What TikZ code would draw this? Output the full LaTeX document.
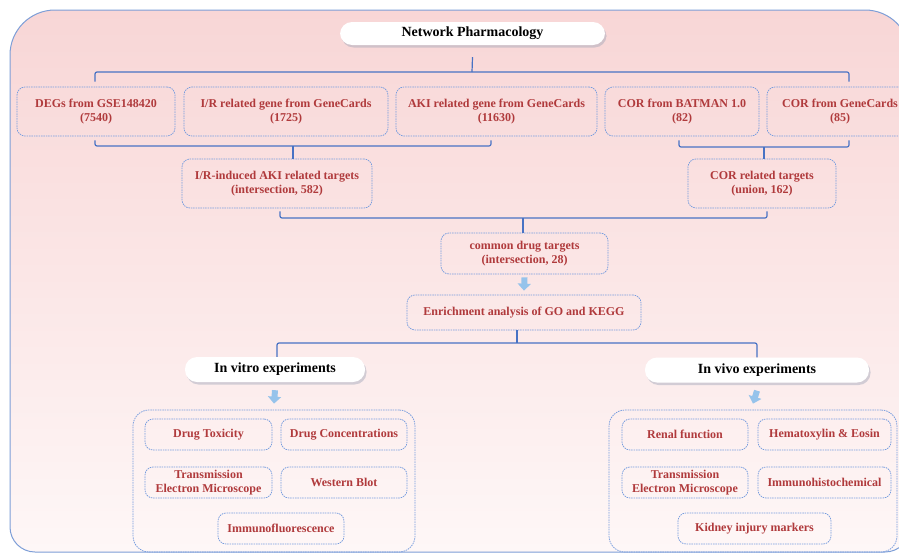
\documentclass[tikz,border=0pt]{standalone}
\usepackage{fontspec}
\setmainfont{Liberation Serif}
\usetikzlibrary{shadows,arrows.meta,calc}
\definecolor{txtred}{RGB}{176,58,60}
\definecolor{bdr}{RGB}{118,156,222}
\definecolor{connc}{RGB}{72,114,196}
\definecolor{outerc}{RGB}{125,158,215}
\definecolor{pinktop}{RGB}{248,214,214}
\definecolor{pinkbot}{RGB}{254,247,247}
\definecolor{arrblue}{RGB}{150,195,235}
\definecolor{shadowc}{RGB}{160,166,184}
\begin{document}
\begin{tikzpicture}[x=1pt,y=-1pt,
 box/.style={draw=bdr, line width=0.75pt, dash pattern=on 1.5pt off 0.9pt, rounded corners=8pt, align=center, text=txtred, font=\fontsize{12}{14.5}\selectfont\bfseries, inner sep=0pt},
 pill/.style={fill=white, rounded corners=12pt, font=\fontsize{14}{16}\selectfont\bfseries, drop shadow={shadow xshift=1.5pt, shadow yshift=-2.5pt, opacity=0.45, fill=shadowc}, inner sep=0pt},
 container/.style={draw=bdr, line width=0.75pt, dash pattern=on 1.5pt off 0.9pt, rounded corners=16pt, inner sep=0pt},
 link/.style={draw=connc, line width=1.2pt, rounded corners=2pt},
 flow/.style={draw=arrblue, line width=6pt, -{Triangle[width=13pt,length=7pt]}}
]
\useasboundingbox (0,0) rectangle (899,554);
% background panel
\path[draw=outerc, line width=1pt, top color=pinktop, bottom color=pinkbot]
  (10,300) [rounded corners=45pt] -- (10,10) -- (910,10) -- (910,300)
  [rounded corners=25pt] -- (910,552) -- (10,552) -- (10,300) -- cycle;

% title
\node[pill, minimum width=265pt, minimum height=23pt] (np) at (472.5,33.5) {Network Pharmacology};

% row 1
\node[box, minimum width=158pt, minimum height=49pt] (deg) at (96,111.5) {DEGs from GSE148420\\(7540)};
\node[box, minimum width=204pt, minimum height=49pt] (irg) at (286,111.5) {I/R related gene from GeneCards\\(1725)};
\node[box, minimum width=201pt, minimum height=49pt] (aki) at (496.5,111.5) {AKI related gene from GeneCards\\(11630)};
\node[box, minimum width=154pt, minimum height=49pt] (cb) at (682,111.5) {COR from BATMAN 1.0\\(82)};
\node[box, minimum width=146pt, minimum height=49pt] (cg) at (840,111.5) {COR from GeneCards\\(85)};

% row 2
\node[box, minimum width=190pt, minimum height=49pt] (ir) at (277,183.5) {I/R-induced AKI related targets\\(intersection, 582)};
\node[box, minimum width=148pt, minimum height=49pt] (cr) at (762,183.5) {COR related targets\\(union, 162)};

% common + enrichment
\node[box, minimum width=167pt, minimum height=41pt] (common) at (524.5,253.5) {common drug targets\\(intersection, 28)};
\node[box, minimum width=234pt, minimum height=35pt] (enrich) at (524,312.5) {Enrichment analysis of GO and KEGG};

% experiment pills
\node[pill, minimum width=180pt, minimum height=25pt] (vitro) at (275,369.5) {In vitro experiments};
\node[pill, minimum width=224pt, minimum height=25pt] (vivo) at (757,370) {In vivo experiments};

% containers
\node[container, minimum width=282pt, minimum height=142pt] (vitroC) at (274,481) {};
\node[container, minimum width=288pt, minimum height=142pt] (vivoC) at (753,481) {};

% in vitro items
\node[box, minimum width=127pt, minimum height=31pt] (dt) at (208.5,434.5) {Drug Toxicity};
\node[box, minimum width=126pt, minimum height=31pt] (dc) at (344,434.5) {Drug Concentrations};
\node[box, minimum width=127pt, minimum height=31pt] (tem1) at (208.5,482.5) {Transmission\\Electron Microscope};
\node[box, minimum width=126pt, minimum height=31pt] (wb) at (344,482.5) {Western Blot};
\node[box, minimum width=126pt, minimum height=31pt] (imf) at (281,528.5) {Immunofluorescence};

% in vivo items
\node[box, minimum width=126pt, minimum height=31pt] (rf) at (685,434.5) {Renal function};
\node[box, minimum width=133pt, minimum height=31pt] (he) at (824.5,434.5) {Hematoxylin \& Eosin};
\node[box, minimum width=126pt, minimum height=31pt] (tem2) at (685,482.5) {Transmission\\Electron Microscope};
\node[box, minimum width=133pt, minimum height=31pt] (ihc) at (824.5,482.5) {Immunohistochemical};
\node[box, minimum width=153pt, minimum height=31pt] (kim) at (754.5,528.5) {Kidney injury markers};

% connectors
\coordinate (b0) at (472,72);
\draw[link] ([yshift=-12pt]np.south) -- (b0);
\draw[link] ([xshift=-1pt,yshift=5pt]deg.north) |- (b0) -| ([xshift=9pt,yshift=5pt]cg.north);

\coordinate (b1) at (293,146);
\draw[link] ([xshift=-1pt,yshift=-4pt]deg.south) |- (b1) -| ([xshift=-5.5pt,yshift=-4pt]aki.south);
\draw[link] (b1) -- (b1 |- ir.north);

\coordinate (b2) at (764,147);
\draw[link] ([xshift=-3pt,yshift=-4pt]cb.south) |- (b2) -| ([xshift=9pt,yshift=-4pt]cg.south);
\draw[link] (b2) -- (b2 |- cr.north);

\coordinate (b3) at (523,218);
\draw[link] ([xshift=3pt,yshift=-3pt]ir.south) |- (b3) -| ([xshift=5pt,yshift=-3pt]cr.south);
\draw[link] (b3) -- (b3 |- common.north);

\draw[flow] ([yshift=-3pt]common.south) -- ([yshift=4pt]enrich.north);

\coordinate (b4) at (517,343);
\draw[link] (enrich.south -| b4) -- (b4);
\draw[link] ([xshift=2pt]vitro.north) |- (b4) -| (vivo.north);

\draw[flow] ([yshift=-8pt]vitro.south) -- ([yshift=6pt]vitroC.north);
\draw[flow] ([yshift=-8pt]vivo.south) -- ([yshift=6pt]vivoC.north);
\end{tikzpicture}
\end{document}
